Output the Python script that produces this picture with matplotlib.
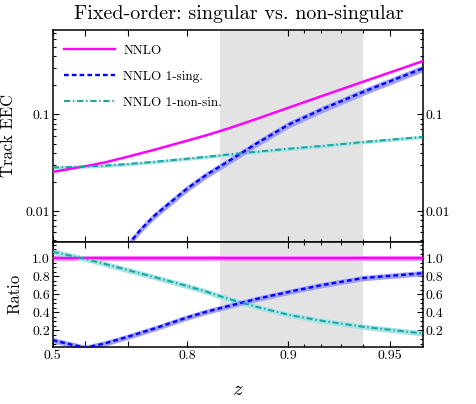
import numpy as np
import matplotlib
matplotlib.use("Agg")
import matplotlib.pyplot as plt
from matplotlib.ticker import FixedLocator, NullFormatter, FixedFormatter

plt.rcParams["font.family"] = ["cmr10", "DejaVu Serif"]
plt.rcParams["mathtext.fontset"] = "cm"
plt.rcParams["axes.unicode_minus"] = False

# ---- data ----
Z = [0.5, 0.55, 0.6, 0.65, 0.7, 0.75, 0.8, 0.825, 0.85, 0.875, 0.9, 0.92, 0.94, 0.96]
NNLO = [0.0254, 0.0271, 0.0291, 0.0319, 0.0365, 0.0431, 0.0535, 0.0610, 0.0721,
        0.0894, 0.1176, 0.1545, 0.2190, 0.357]
NONSING = [0.0282, 0.0285, 0.0289, 0.0295, 0.0306, 0.0323, 0.0348, 0.0364, 0.0385,
           0.0410, 0.0441, 0.0471, 0.0518, 0.0586]
SING_Z = [0.7, 0.725, 0.75, 0.775, 0.8, 0.825, 0.85, 0.875, 0.9, 0.92, 0.94, 0.96]
SING = [0.0044, 0.00635, 0.0089, 0.0121, 0.0170, 0.0237, 0.0330, 0.0494, 0.0784,
        0.1121, 0.1716, 0.300]

RATIO_NNLO = [1.0] * len(Z)
RATIO_SING = [0.088, 0.047, 0.003, 0.052, 0.125, 0.217, 0.34, 0.405, 0.47, 0.545,
              0.625, 0.70, 0.78, 0.834]
RATIO_NONSING = [1.074, 1.035, 0.993, 0.937, 0.870, 0.791, 0.692, 0.628, 0.546,
                 0.462, 0.370, 0.305, 0.237, 0.163]

BAND_Z = (0.84, 0.94)
X_TICKS = [0.5, 0.6, 0.7, 0.8, 0.9, 0.95]
X_TICK_LABELS = ["0.5", "", "", "0.8", "0.9", "0.95"]
X_MINOR = [0.91, 0.92, 0.93, 0.94]

MAGENTA, BLUE, TEAL = "#ff00ff", "#0000ff", "#1aa6a6"


def fwd(z):
    return -np.log(np.clip(1 - np.asarray(z, dtype=float), 1e-9, None))


def inv(t):
    return 1 - np.exp(-np.asarray(t, dtype=float))


fig = plt.figure(figsize=(4.76, 4.04), dpi=100)
ax = fig.add_axes([0.1107, 0.4017, 0.7773, 0.524])
ax2 = fig.add_axes([0.1107, 0.1418, 0.7773, 0.2599], sharex=ax)

for a in (ax, ax2):
    a.set_xscale("function", functions=(fwd, inv))
    a.set_xlim(0.5, 0.96)
    a.axvspan(*BAND_Z, color="#e3e3e3", lw=0, zorder=0)
    a.xaxis.set_major_locator(FixedLocator(X_TICKS))
    a.xaxis.set_minor_locator(FixedLocator(X_MINOR))
    a.tick_params(which="both", direction="in", top=True, right=True, labelright=True,
                  labelsize=10, width=0.8, pad=2)
    a.tick_params(which="major", length=4.5)
    a.tick_params(which="minor", length=2.5)
    for s in a.spines.values():
        s.set_linewidth(1.1)

z = np.array(Z)
zs = np.array(SING_Z)

# ---- upper panel ----
ax.fill_between(z, np.array(NNLO) * 0.98, np.array(NNLO) * 1.02, color="#ff99ff", lw=0, zorder=2)
ax.fill_between(z, np.array(NONSING) * 0.96, np.array(NONSING) * 1.04, color="#a8e4e4", lw=0, zorder=2)
ax.fill_between(zs, np.array(SING) * 0.92, np.array(SING) * 1.08, color="#a0a0ff", lw=0, zorder=2)
ax.plot(z, NNLO, color=MAGENTA, lw=1.7, label="NNLO", zorder=4)
ax.plot(zs, SING, color=BLUE, lw=1.7, dashes=(2.0, 1.3), label="NNLO 1-sing.", zorder=4)
ax.plot(z, NONSING, color=TEAL, lw=1.5, dashes=(3.0, 1.3, 0.7, 1.3), label="NNLO 1-non-sin.", zorder=4)

ax.set_yscale("log")
ax.set_ylim(0.0048, 0.75)
ax.yaxis.set_major_locator(FixedLocator([0.01, 0.1]))
ax.yaxis.set_major_formatter(FixedFormatter(["0.01", "0.1"]))
ax.yaxis.set_minor_locator(FixedLocator([k * 10.0 ** e for e in (-3, -2, -1) for k in range(2, 10)]))
ax.yaxis.set_minor_formatter(NullFormatter())
ax.tick_params(axis="x", labelbottom=False)
ax.set_ylabel("Track EEC", fontsize=12, labelpad=7)

ax.legend(loc="upper left", bbox_to_anchor=(-0.005, 0.995), frameon=False, fontsize=9.5,
          handlelength=3.9, labelspacing=1.05, handletextpad=0.6, borderaxespad=0.6)

# ---- ratio panel ----
ax2.fill_between(z, np.array(RATIO_NNLO) - 0.025, np.array(RATIO_NNLO) + 0.025, color="#ff99ff", lw=0, zorder=2)
ax2.fill_between(z, np.array(RATIO_NONSING) - 0.03, np.array(RATIO_NONSING) + 0.03, color="#a8e4e4", lw=0, zorder=2)
ax2.fill_between(z, np.array(RATIO_SING) - 0.03, np.array(RATIO_SING) + 0.03, color="#a0a0ff", lw=0, zorder=2)
ax2.plot(z, RATIO_NNLO, color=MAGENTA, lw=1.7, zorder=4)
ax2.plot(z, RATIO_SING, color=BLUE, lw=1.7, dashes=(2.0, 1.3), zorder=4)
ax2.plot(z, RATIO_NONSING, color=TEAL, lw=1.5, dashes=(3.0, 1.3, 0.7, 1.3), zorder=4)

ax2.set_ylim(0.015, 1.185)
ax2.yaxis.set_major_locator(FixedLocator([0.2, 0.4, 0.6, 0.8, 1.0]))
ax2.yaxis.set_major_formatter(FixedFormatter(["0.2", "0.4", "0.6", "0.8", "1.0"]))
ax2.yaxis.set_minor_locator(FixedLocator([0.05 * k for k in range(1, 24) if k % 4]))
ax2.yaxis.set_minor_formatter(NullFormatter())
ax2.xaxis.set_major_formatter(FixedFormatter(X_TICK_LABELS))
ax2.xaxis.set_minor_formatter(NullFormatter())
ax2.set_ylabel("Ratio", fontsize=12, labelpad=7)
ax2.set_xlabel("$z$", fontsize=15, labelpad=14)

fig.text(0.502, 0.965, "Fixed-order: singular vs. non-singular", ha="center", va="center", fontsize=14.5)

fig.savefig("out.png", dpi=100)
